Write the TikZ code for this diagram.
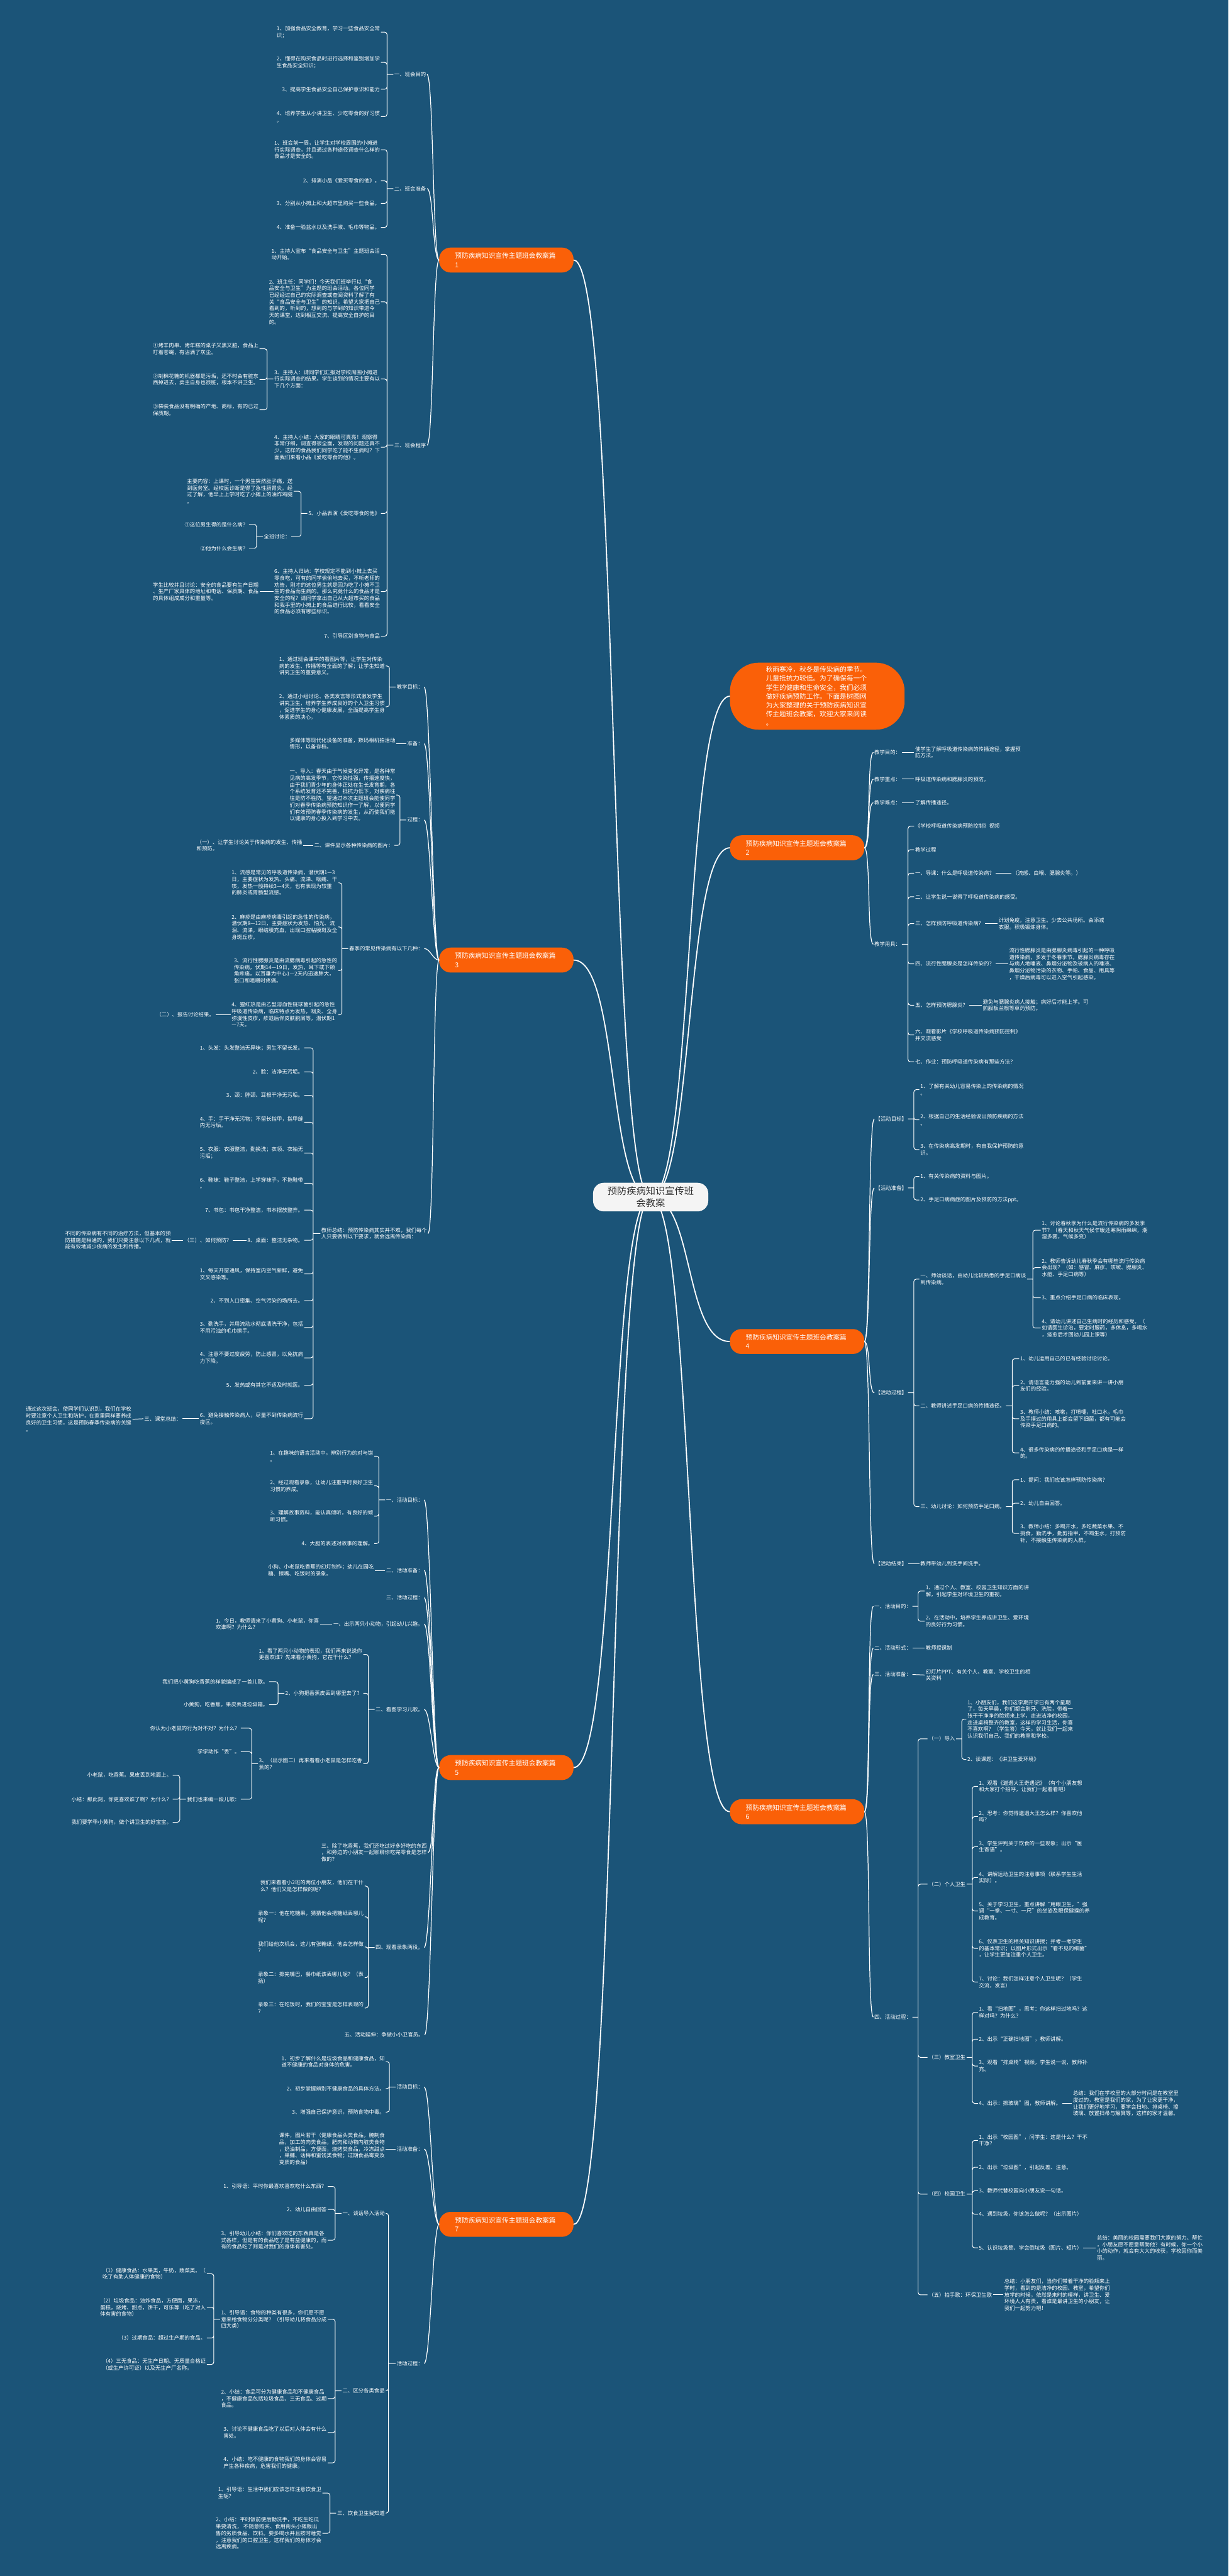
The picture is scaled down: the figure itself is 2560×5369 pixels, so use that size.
\documentclass[tikz,border=0pt]{standalone}
\usepackage{fontspec}
\setmainfont{Noto Sans CJK SC}
\definecolor{mmbg}{RGB}{27,84,120}
\definecolor{mmorange}{RGB}{250,96,8}
\definecolor{mmroot}{RGB}{244,244,244}
\definecolor{mmink}{RGB}{48,48,48}
\tikzset{
  root/.style={fill=mmroot, text=mmink, rounded corners=22pt, align=center,
               inner xsep=30pt, inner ysep=8pt, font=\fontsize{20}{25}\selectfont},
  topic/.style={fill=mmorange, text=white, rounded corners=24pt, anchor=west,
                text width=214pt, align=left, inner xsep=33pt, minimum height=52pt,
                font=\fontsize{14}{18.5}\selectfont},
  intro/.style={topic, inner xsep=75pt, inner ysep=8pt, rounded corners=60pt},
  leaf/.style={text=white, align=left, inner sep=2pt, font=\fontsize{11}{14}\selectfont},
  lf/.style={leaf, anchor=east},
  rt/.style={leaf, anchor=west},
  trunk/.style={draw=white, line width=2.4pt},
  branch/.style={draw=white, line width=1.6pt},
  twig/.style={draw=white, line width=1.3pt, rounded corners=5pt},
}
\begin{document}
\begin{tikzpicture}[x=1pt, y=-1pt]
\fill[mmbg] (0,0) rectangle (2560,5369);

% main topics
\node[intro] (s0) at (1521,1451) {秋雨寒冷，秋冬是传染病的季节。\\儿童抵抗力较低。为了确保每一个\\学生的健康和生命安全，我们必须\\做好疾病预防工作。下面是树图网\\为大家整理的关于预防疾病知识宣\\传主题班会教案，欢迎大家来阅读\\。};
\node[topic] (s1) at (915,542) {预防疾病知识宣传主题班会教案篇\\1};
\node[topic] (s2) at (1521,1767) {预防疾病知识宣传主题班会教案篇\\2};
\node[topic] (s3) at (915,2001) {预防疾病知识宣传主题班会教案篇\\3};
\node[topic] (s4) at (1521,2796) {预防疾病知识宣传主题班会教案篇\\4};
\node[topic] (s5) at (915,3684) {预防疾病知识宣传主题班会教案篇\\5};
\node[topic] (s6) at (1521,3776) {预防疾病知识宣传主题班会教案篇\\6};
\node[topic] (s7) at (915,4636) {预防疾病知识宣传主题班会教案篇\\7};

\coordinate (hub) at (1356,2495);
\draw[trunk] (hub) .. controls +(-90,0) and +(95,0) .. (s1.east);
\draw[trunk] (hub) .. controls +(-90,0) and +(95,0) .. (s3.east);
\draw[trunk] (hub) .. controls +(-90,0) and +(95,0) .. (s5.east);
\draw[trunk] (hub) .. controls +(-90,0) and +(95,0) .. (s7.east);
\draw[trunk] (hub) .. controls +(90,0) and +(-95,0) .. (s0.west);
\draw[trunk] (hub) .. controls +(90,0) and +(-95,0) .. (s2.west);
\draw[trunk] (hub) .. controls +(90,0) and +(-95,0) .. (s4.west);
\draw[trunk] (hub) .. controls +(90,0) and +(-95,0) .. (s6.west);
\node[root] (ctr) at (hub) {预防疾病知识宣传班\\会教案};

% ---- 1
\node[lf] (s1a) at (890,155) {一、班会目的};
\node[lf] (s1a1) at (794,67) {1、加强食品安全教育，学习一些食品安全常\\识；};
\node[lf] (s1a2) at (794,130) {2、懂得在购买食品时进行选择和鉴别增加学\\生食品安全知识；};
\node[lf] (s1a3) at (794,186) {3、提高学生食品安全自己保护意识和能力};
\node[lf] (s1a4) at (794,243) {4、培养学生从小讲卫生、少吃零食的好习惯\\。};
\node[lf] (s1b) at (890,393) {二、班会准备};
\node[lf] (s1b1) at (794,312) {1、班会前一周，让学生对学校周围的小摊进\\行实际调查，并且通过各种途径调查什么样的\\食品才是安全的。};
\node[lf] (s1b2) at (794,377) {2、排演小品《爱买零食的他》。};
\node[lf] (s1b3) at (794,424) {3、分别从小摊上和大超市里购买一些食品。};
\node[lf] (s1b4) at (794,474) {4、准备一脸盆水以及洗手液、毛巾等物品。};
\node[lf] (s1c) at (890,928) {三、班会程序};
\node[lf] (s1c1) at (794,530) {1、主持人宣布“食品安全与卫生”主题班会活\\动开始。};
\node[lf] (s1c2) at (794,629) {2、班主任：同学们！今天我们班举行以“食\\品安全与卫生”为主题的班会活动。各位同学\\已经经过自己的实际调查或查阅资料了解了有\\关“食品安全与卫生”的知识，希望大家把自己\\看到的，听到的，想到的与学到的知识带进今\\天的课堂，达到相互交流、提高安全自护的目\\的。};
\node[lf] (s1c3) at (794,790) {3、主持人：请同学们汇报对学校周围小摊进\\行实际调查的结果。学生谈到的情况主要有以\\下几个方面：};
\node[lf] (s1c3a) at (541,727) {①烤羊肉串、烤年糕的桌子又黑又脏，食品上\\叮着苍蝇，有沾满了灰尘。};
\node[lf] (s1c3b) at (541,791) {②制棉花糖的机器都是污垢，还不时会有脏东\\西掉进去，卖主自身也很脏，根本不讲卫生。};
\node[lf] (s1c3c) at (541,854) {③袋装食品没有明确的产地、商标，有的已过\\保质期。};
\node[lf] (s1c4) at (794,932) {4、主持人小结：大家的眼睛可真亮！观察得\\非常仔细，调查得很全面，发现的问题还真不\\少。这样的食品我们同学吃了能不生病吗？下\\面我们来看小品《爱吃零食的他》。};
\node[lf] (s1c5) at (794,1070) {5、小品表演《爱吃零食的他》};
\node[lf] (s1c5a) at (612,1024) {主要内容：上课时，一个男生突然肚子痛，送\\到医务室。经校医诊断是得了急性肠胃炎。经\\过了解，他早上上学时吃了小摊上的油炸鸡腿\\。};
\node[lf] (s1c5b) at (607,1118) {全班讨论：};
\node[lf] (s1c5b1) at (519,1093) {①这位男生得的是什么病？};
\node[lf] (s1c5b2) at (519,1143) {②他为什么会生病？};
\node[lf] (s1c6) at (794,1233) {6、主持人归纳：学校规定不能到小摊上去买\\零食吃，可有的同学偷偷地去买，不听老师的\\劝告，刚才的这位男生就是因为吃了小摊不卫\\生的食品而生病的。那么究竟什么的食品才是\\安全的呢？请同学拿出自己从大超市买的食品\\和我手里的小摊上的食品进行比较，看看安全\\的食品必须有哪些标识。};
\node[lf] (s1c6a) at (541,1233) {学生比较并且讨论：安全的食品要有生产日期\\、生产厂家具体的地址和电话、保质期、食品\\的具体组成成分和重量等。};
\node[lf] (s1c7) at (794,1326) {7、引导区别食物与食品};

\draw[branch] (s1.west) .. controls +(-13,0) and +(13,0) .. (s1a.east);
\draw[branch] (s1.west) .. controls +(-13,0) and +(13,0) .. (s1b.east);
\draw[branch] (s1.west) .. controls +(-13,0) and +(13,0) .. (s1c.east);
\draw[twig] (s1a.west) -- ++(-13,0) coordinate (k) (k) |- (s1a1.east) (k) |- (s1a2.east) (k) |- (s1a3.east) (k) |- (s1a4.east);
\draw[twig] (s1b.west) -- ++(-13,0) coordinate (k) (k) |- (s1b1.east) (k) |- (s1b2.east) (k) |- (s1b3.east) (k) |- (s1b4.east);
\draw[twig] (s1c.west) -- ++(-13,0) coordinate (k) (k) |- (s1c1.east) (k) |- (s1c2.east) (k) |- (s1c3.east) (k) |- (s1c4.east) (k) |- (s1c5.east) (k) |- (s1c6.east) (k) |- (s1c7.east);
\draw[twig] (s1c3.west) -- ++(-13,0) coordinate (k) (k) |- (s1c3a.east) (k) |- (s1c3b.east) (k) |- (s1c3c.east);
\draw[twig] (s1c5.west) -- ++(-13,0) coordinate (k) (k) |- (s1c5a.east) (k) |- (s1c5b.east);
\draw[twig] (s1c5b.west) -- ++(-13,0) coordinate (k) (k) |- (s1c5b1.east) (k) |- (s1c5b2.east);
\draw[twig] (s1c6.west) -- (s1c6a.east);

% ---- 3
\node[lf] (s3a) at (884,1432) {教学目标：};
\node[lf] (s3a1) at (804,1388) {1、通过班会课中的看图片等，让学生对传染\\病的发生、传播等有全面的了解；让学生知道\\讲究卫生的重要意义。};
\node[lf] (s3a2) at (804,1473) {2、通过小组讨论、各类发言等形式激发学生\\讲究卫生，培养学生养成良好的个人卫生习惯\\，促进学生的身心健康发展，全面提高学生身\\体素质的决心。};
\node[lf] (s3b) at (884,1550) {准备：};
\node[lf] (s3b1) at (826,1550) {多媒体等现代化设备的准备，数码相机拍活动\\情形，以备存档。};
\node[lf] (s3c) at (884,1709) {过程：};
\node[lf] (s3c1) at (826,1657) {一、导入：春天由于气候变化异常，是各种常\\见病的高发季节，它传染性强，传播速度快，\\由于我们青少年的身体正处在生长发育期，各\\个系统发育还不完善，抵抗力低下，对疾病往\\往是防不胜防。望通过本次主题班会能使同学\\们对春季传染病预防知识作一了解，以便同学\\们有效预防春季传染病的发生，从而使我们能\\以健康的身心投入到学习中去。};
\node[lf] (s3c2) at (822,1762) {二、课件显示各种传染病的图片：};
\node[lf] (s3c2a) at (632,1762) {（一）、让学生讨论关于传染病的发生、传播\\和预防。};
\node[lf] (s3d) at (884,1977) {春季的常见传染病有以下几种：};
\node[lf] (s3d1) at (705,1840) {1、流感是常见的呼吸道传染病，潜伏期1—3\\日，主要症状为发热、头痛、流涕、咽痛、干\\咳，发热一般持续3—4天，也有表现为较重\\的肺炎或胃肠型流感。};
\node[lf] (s3d2) at (705,1932) {2、麻疹是由麻疹病毒引起的急性的传染病，\\潜伏期8—12日，主要症状为发热、怕光、流\\泪、流涕，眼结膜充血，出现口腔粘膜斑及全\\身斑丘疹。};
\node[lf] (s3d3) at (705,2023) {3、流行性腮腺炎是由流腮病毒引起的急性的\\传染病，伏期14—19日，发热，耳下或下颌\\角疼痛，以耳垂为中心1—2天内迅速肿大，\\张口和咀嚼时疼痛。};
\node[lf] (s3d4) at (705,2115) {4、猩红热是由乙型溶血性链球菌引起的急性\\呼吸道传染病，临床特点为发热，咽炎、全身\\弥漫性皮疹，疹退后伴皮肤脱屑等，潜伏期1\\—7天。};
\node[lf] (s3d4a) at (449,2115) {（二）、报告讨论结果。};
\node[lf] (s3e) at (892,2571) {教师总结：预防传染病其实并不难，我们每个\\人只要做到以下要求，就会远离传染病：};
\node[lf] (s3e1) at (634,2184) {1、头发：头发整洁无异味；男生不留长发。};
\node[lf] (s3e2) at (634,2234) {2、脸：洁净无污垢。};
\node[lf] (s3e3) at (634,2283) {3、颈：脖颈、耳根干净无污垢。};
\node[lf] (s3e4) at (634,2339) {4、手：手干净无污物；不留长指甲，指甲缝\\内无污垢。};
\node[lf] (s3e5) at (634,2403) {5、衣服：衣服整洁，勤换洗；衣领、衣袖无\\污垢；};
\node[lf] (s3e6) at (634,2466) {6、鞋袜：鞋子整洁，上学穿袜子，不拖鞋带\\。};
\node[lf] (s3e7) at (634,2522) {7、书包：书包干净整洁，书本摆放整齐。};
\node[lf] (s3e8) at (634,2585) {8、桌面：整洁无杂物。};
\node[lf] (s3e8a) at (485,2585) {（三）、如何预防？};
\node[lf] (s3e8b) at (358,2585) {不同的传染病有不同的治疗方法，但基本的预\\防措施是相通的，我们只要注意以下几点，就\\能有效地减少疾病的发生和传播。};
\node[lf] (s3e9) at (634,2655) {1、每天开窗通风，保持室内空气新鲜，避免\\交叉感染等。};
\node[lf] (s3e10) at (634,2711) {2、不到人口密集、空气污染的场所去。};
\node[lf] (s3e11) at (634,2767) {3、勤洗手，并用流动水彻底清洗干净，包括\\不用污浊的毛巾擦手。};
\node[lf] (s3e12) at (634,2830) {4、注意不要过度疲劳，防止感冒，以免抗病\\力下降。};
\node[lf] (s3e13) at (634,2887) {5、发热或有其它不适及时就医。};
\node[lf] (s3e14) at (634,2957) {6、避免接触传染病人，尽量不到传染病流行\\疫区。};
\node[lf] (s3e14a) at (380,2957) {三、课堂总结：};
\node[lf] (s3e14b) at (276,2958) {通过这次班会，使同学们认识到，我们在学校\\时要注意个人卫生和防护，在家里同样要养成\\良好的卫生习惯，这是预防春季传染病的关键\\。};

\draw[branch] (s3.west) .. controls +(-13,0) and +(13,0) .. (s3a.east);
\draw[branch] (s3.west) .. controls +(-13,0) and +(13,0) .. (s3b.east);
\draw[branch] (s3.west) .. controls +(-13,0) and +(13,0) .. (s3c.east);
\draw[branch] (s3.west) .. controls +(-13,0) and +(13,0) .. (s3d.east);
\draw[branch] (s3.west) .. controls +(-13,0) and +(13,0) .. (s3e.east);
\draw[twig] (s3a.west) -- ++(-13,0) coordinate (k) (k) |- (s3a1.east) (k) |- (s3a2.east);
\draw[twig] (s3b.west) -- (s3b1.east);
\draw[twig] (s3c.west) -- ++(-13,0) coordinate (k) (k) |- (s3c1.east) (k) |- (s3c2.east);
\draw[twig] (s3c2.west) -- (s3c2a.east);
\draw[twig] (s3d.west) -- ++(-13,0) coordinate (k) (k) |- (s3d1.east) (k) |- (s3d2.east) (k) |- (s3d3.east) (k) |- (s3d4.east);
\draw[twig] (s3d4.west) -- (s3d4a.east);
\draw[twig] (s3e.west) -- ++(-15,0) coordinate (k) (k) |- (s3e1.east) (k) |- (s3e2.east) (k) |- (s3e3.east) (k) |- (s3e4.east) (k) |- (s3e5.east) (k) |- (s3e6.east) (k) |- (s3e7.east) (k) |- (s3e8.east) (k) |- (s3e9.east) (k) |- (s3e10.east) (k) |- (s3e11.east) (k) |- (s3e12.east) (k) |- (s3e13.east) (k) |- (s3e14.east);
\draw[twig] (s3e8.west) -- (s3e8a.east);
\draw[twig] (s3e8a.west) -- (s3e8b.east);
\draw[twig] (s3e14.west) -- (s3e14a.east);
\draw[twig] (s3e14a.west) -- (s3e14b.east);

% ---- 5
\node[lf] (s5a) at (884,3126) {一、活动目标：};
\node[lf] (s5a1) at (780,3035) {1、在趣味的语言活动中，辨别行为的对与错\\。};
\node[lf] (s5a2) at (780,3097) {2、经过观看录象，让幼儿注重平时良好卫生\\习惯的养成。};
\node[lf] (s5a3) at (780,3160) {3、理解故事资料，能认真倾听，有良好的倾\\听习惯。};
\node[lf] (s5a4) at (780,3217) {4、大胆的表述对故事的理解。};
\node[lf] (s5b) at (884,3273) {二、活动准备：};
\node[lf] (s5b1) at (781,3273) {小狗、小老鼠吃香蕉的幻灯制作；幼儿在园吃\\糖、擦嘴、吃饭时的录象。};
\node[lf] (s5c) at (884,3330) {三、活动过程：};
\node[lf] (s5d) at (884,3385) {一、出示两只小动物，引起幼儿兴趣。};
\node[lf] (s5d1) at (667,3385) {1、今日，教师请来了小黄狗、小老鼠，你喜\\欢谁啊？为什么？};
\node[lf] (s5e) at (884,3563) {二、看图学习儿歌。};
\node[lf] (s5e1) at (757,3448) {1、看了两只小动物的表现，我们再来说说你\\更喜欢谁？先来看小黄狗，它在干什么？};
\node[lf] (s5e2) at (757,3529) {2、小狗把香蕉皮丢到哪里去了？};
\node[lf] (s5e2a) at (561,3505) {我们把小黄狗吃香蕉的样貌编成了一首儿歌。};
\node[lf] (s5e2b) at (561,3553) {小黄狗，吃香蕉。果皮丢进垃圾箱。};
\node[lf] (s5e3) at (757,3676) {3、（出示图二）再来看看小老鼠是怎样吃香\\蕉的？};
\node[lf] (s5e3a) at (502,3602) {你认为小老鼠的行为对不对？为什么？};
\node[lf] (s5e3b) at (502,3651) {学学动作“丢”。};
\node[lf] (s5e3c) at (502,3750) {我们也来编一段儿歌：};
\node[lf] (s5e3c1) at (360,3700) {小老鼠，吃香蕉。果皮丢到地面上。};
\node[lf] (s5e3c2) at (360,3750) {小结：那此刻，你更喜欢谁了啊？为什么？};
\node[lf] (s5e3c3) at (360,3798) {我们要学乖小黄狗，做个讲卫生的好宝宝。};
\node[lf] (s5f) at (892,3861) {三、除了吃香蕉，我们还吃过好多好吃的东西\\，和旁边的小朋友一起聊聊你吃完零食是怎样\\做的？};
\node[lf] (s5g) at (884,4059) {四、观看录象两段。};
\node[lf] (s5g1) at (760,3931) {我们来看看小2班的两位小朋友，他们在干什\\么？他们又是怎样做的呢？};
\node[lf] (s5g2) at (760,3995) {录象一：他在吃糖果，猜猜他会把糖纸丢哪儿\\呢？};
\node[lf] (s5g3) at (760,4058) {我们给他次机会，这儿有张糖纸，他会怎样做\\？};
\node[lf] (s5g4) at (760,4122) {录象二：擦完嘴巴，餐巾纸该丢哪儿呢？（表\\扬）};
\node[lf] (s5g5) at (760,4185) {录象三：在吃饭时，我们的宝宝是怎样表现的\\？};
\node[lf] (s5h) at (885,4241) {五、活动延伸：争做小小卫官员。};

\draw[branch] (s5.west) .. controls +(-13,0) and +(13,0) .. (s5a.east);
\draw[branch] (s5.west) .. controls +(-13,0) and +(13,0) .. (s5b.east);
\draw[branch] (s5.west) .. controls +(-13,0) and +(13,0) .. (s5c.east);
\draw[branch] (s5.west) .. controls +(-13,0) and +(13,0) .. (s5d.east);
\draw[branch] (s5.west) .. controls +(-13,0) and +(13,0) .. (s5e.east);
\draw[branch] (s5.west) .. controls +(-13,0) and +(13,0) .. (s5f.east);
\draw[branch] (s5.west) .. controls +(-13,0) and +(13,0) .. (s5g.east);
\draw[branch] (s5.west) .. controls +(-13,0) and +(13,0) .. (s5h.east);
\draw[twig] (s5a.west) -- ++(-13,0) coordinate (k) (k) |- (s5a1.east) (k) |- (s5a2.east) (k) |- (s5a3.east) (k) |- (s5a4.east);
\draw[twig] (s5b.west) -- (s5b1.east);
\draw[twig] (s5d.west) -- (s5d1.east);
\draw[twig] (s5e.west) -- ++(-13,0) coordinate (k) (k) |- (s5e1.east) (k) |- (s5e2.east) (k) |- (s5e3.east);
\draw[twig] (s5e2.west) -- ++(-13,0) coordinate (k) (k) |- (s5e2a.east) (k) |- (s5e2b.east);
\draw[twig] (s5e3.west) -- ++(-13,0) coordinate (k) (k) |- (s5e3a.east) (k) |- (s5e3b.east) (k) |- (s5e3c.east);
\draw[twig] (s5e3c.west) -- ++(-13,0) coordinate (k) (k) |- (s5e3c1.east) (k) |- (s5e3c2.east) (k) |- (s5e3c3.east);
\draw[twig] (s5g.west) -- ++(-13,0) coordinate (k) (k) |- (s5g1.east) (k) |- (s5g2.east) (k) |- (s5g3.east) (k) |- (s5g4.east) (k) |- (s5g5.east);

% ---- 7
\node[lf] (s7a) at (884,4350) {活动目标：};
\node[lf] (s7a1) at (804,4297) {1、初步了解什么是垃圾食品和健康食品，知\\道不健康的食品对身体的危害。};
\node[lf] (s7a2) at (804,4353) {2、初步掌握辨别不健康食品的具体方法。};
\node[lf] (s7a3) at (804,4402) {3、增强自己保护意识，预防食物中毒。};
\node[lf] (s7b) at (884,4479) {活动准备：};
\node[lf] (s7b1) at (804,4479) {课件，图片若干（健康食品头类食品，腌制食\\品，加工的肉类食品，肥肉和动物内脏类食物\\，奶油制品，方便面，烧烤类食品，冷冻甜点\\，果脯、话梅和蜜饯类食物；过期食品霉变及\\变质的食品）};
\node[lf] (s7c) at (884,4926) {活动过程：};
\node[lf] (s7c1) at (804,4613) {一、谈话导入活动};
\node[lf] (s7c1a) at (683,4557) {1、引导语：平时你最喜欢喜欢吃什么东西？};
\node[lf] (s7c1b) at (683,4605) {2、幼儿自由回答};
\node[lf] (s7c1c) at (683,4669) {3、引导幼儿小结：你们喜欢吃的东西真是各\\式各样，但是有的食品吃了是有益健康的，而\\有的食品吃了则是对我们的身体有害处。};
\node[lf] (s7c2) at (804,4983) {二、区分各类食品};
\node[lf] (s7c2a) at (683,4834) {1、引导语：食物的种类有很多，你们愿不愿\\意来给食物分分类呢？（引导幼儿将食品分成\\四大类）};
\node[lf] (s7c2a1) at (431,4739) {（1）健康食品：水果类，牛奶，蔬菜类。（\\吃了有助人体健康的食物）};
\node[lf] (s7c2a2) at (431,4809) {（2）垃圾食品：油炸食品，方便面，果冻，\\蛋糕，烧烤、甜点，饼干，可乐等（吃了对人\\体有害的食物）};
\node[lf] (s7c2a3) at (431,4873) {（3）过期食品：超过生产期的食品。};
\node[lf] (s7c2a4) at (431,4928) {（4）三无食品：无生产日期、无质量合格证\\（或生产许可证）以及无生产厂名称。};
\node[lf] (s7c2b) at (683,4999) {2、小结：食品可分为健康食品和不健康食品\\，不健康食品包括垃圾食品、三无食品、过期\\食品。};
\node[lf] (s7c2c) at (683,5070) {3、讨论不健康食品吃了以后对人体会有什么\\害处。};
\node[lf] (s7c2d) at (683,5133) {4、小结：吃不健康的食物我们的身体会容易\\产生各种疾病，危害我们的健康。};
\node[lf] (s7c3) at (804,5238) {三、饮食卫生我知道};
\node[lf] (s7c3a) at (672,5196) {1、引导语：生活中我们应该怎样注意饮食卫\\生呢？};
\node[lf] (s7c3b) at (672,5280) {2、小结：平时饭前便后勤洗手，不吃生吃瓜\\果要清洗， 不随意购买、食用街头小摊贩出\\售的劣质食品、饮料。要多喝水并且按时睡觉\\，注意我们的口腔卫生，这样我们的身体才会\\远离疾病。};

\draw[branch] (s7.west) .. controls +(-13,0) and +(13,0) .. (s7a.east);
\draw[branch] (s7.west) .. controls +(-13,0) and +(13,0) .. (s7b.east);
\draw[branch] (s7.west) .. controls +(-13,0) and +(13,0) .. (s7c.east);
\draw[twig] (s7a.west) -- ++(-13,0) coordinate (k) (k) |- (s7a1.east) (k) |- (s7a2.east) (k) |- (s7a3.east);
\draw[twig] (s7b.west) -- (s7b1.east);
\draw[twig] (s7c.west) -- ++(-15,0) coordinate (k) (k) |- (s7c1.east) (k) |- (s7c2.east) (k) |- (s7c3.east);
\draw[twig] (s7c1.west) -- ++(-13,0) coordinate (k) (k) |- (s7c1a.east) (k) |- (s7c1b.east) (k) |- (s7c1c.east);
\draw[twig] (s7c2.west) -- ++(-13,0) coordinate (k) (k) |- (s7c2a.east) (k) |- (s7c2b.east) (k) |- (s7c2c.east) (k) |- (s7c2d.east);
\draw[twig] (s7c2a.west) -- ++(-13,0) coordinate (k) (k) |- (s7c2a1.east) (k) |- (s7c2a2.east) (k) |- (s7c2a3.east) (k) |- (s7c2a4.east);
\draw[twig] (s7c3.west) -- ++(-13,0) coordinate (k) (k) |- (s7c3a.east) (k) |- (s7c3b.east);

% ---- 2
\node[rt] (s2a) at (1820,1568) {教学目的：};
\node[rt] (s2a1) at (1905,1568) {使学生了解呼吸道传染病的传播途径，掌握预\\防方法。};
\node[rt] (s2b) at (1820,1624) {教学重点：};
\node[rt] (s2b1) at (1905,1624) {呼吸道传染病和腮腺炎的预防。};
\node[rt] (s2c) at (1820,1673) {教学难点：};
\node[rt] (s2c1) at (1905,1673) {了解传播途径。};
\node[rt] (s2d) at (1820,1968) {教学用具：};
\node[rt] (s2d1) at (1905,1722) {《学校呼吸道传染病预防控制》视频};
\node[rt] (s2d2) at (1905,1771) {教学过程};
\node[rt] (s2d3) at (1905,1820) {一、导课：什么是呼吸道传染病？};
\node[rt] (s2d3a) at (2108,1820) {（流感、白喉、腮腺炎等。）};
\node[rt] (s2d4) at (1905,1869) {二、让学生说一说得了呼吸道传染病的感受。};
\node[rt] (s2d5) at (1905,1925) {三、怎样预防呼吸道传染病？};
\node[rt] (s2d5a) at (2079,1925) {计划免疫。注意卫生。少去公共场所。会添减\\衣服。积极锻炼身体。};
\node[rt] (s2d6) at (1905,2009) {四、流行性腮腺炎是怎样传染的？};
\node[rt] (s2d6a) at (2101,2009) {流行性腮腺炎是由腮腺炎病毒引起的一种呼吸\\道传染病，多发于冬春季节。腮腺炎病毒存在\\与病人地唾液、鼻烟分泌物及被病人的唾液、\\鼻烟分泌物污染的衣物、手帕、食品、用具等\\，干燥后病毒可以进入空气引起感染。};
\node[rt] (s2d7) at (1905,2095) {五、怎样预防腮腺炎？};
\node[rt] (s2d7a) at (2046,2095) {避免与腮腺炎病人接触；病好后才能上学。可\\煎服板兰根等草药预防。};
\node[rt] (s2d8) at (1905,2157) {六、观看影片《学校呼吸道传染病预防控制》\\并交流感受};
\node[rt] (s2d9) at (1905,2213) {七、作业：预防呼吸道传染病有那些方法？};

\draw[branch] (s2.east) .. controls +(13,0) and +(-13,0) .. (s2a.west);
\draw[branch] (s2.east) .. controls +(13,0) and +(-13,0) .. (s2b.west);
\draw[branch] (s2.east) .. controls +(13,0) and +(-13,0) .. (s2c.west);
\draw[branch] (s2.east) .. controls +(13,0) and +(-13,0) .. (s2d.west);
\draw[twig] (s2a.east) -- (s2a1.west);
\draw[twig] (s2b.east) -- (s2b1.west);
\draw[twig] (s2c.east) -- (s2c1.west);
\draw[twig] (s2d.east) -- ++(13,0) coordinate (k) (k) |- (s2d1.west) (k) |- (s2d2.west) (k) |- (s2d3.west) (k) |- (s2d4.west) (k) |- (s2d5.west) (k) |- (s2d6.west) (k) |- (s2d7.west) (k) |- (s2d8.west) (k) |- (s2d9.west);
\draw[twig] (s2d3.east) -- (s2d3a.west);
\draw[twig] (s2d5.east) -- (s2d5a.west);
\draw[twig] (s2d6.east) -- (s2d6a.west);
\draw[twig] (s2d7.east) -- (s2d7a.west);

% ---- 4
\node[rt] (s4a) at (1822,2332) {【活动目标】};
\node[rt] (s4a1) at (1916,2271) {1、了解有关幼儿容易传染上的传染病的情况\\。};
\node[rt] (s4a2) at (1916,2334) {2、根据自己的生活经验说出预防疾病的方法\\。};
\node[rt] (s4a3) at (1916,2396) {3、在传染病高发期时，有自我保护预防的意\\识。};
\node[rt] (s4b) at (1822,2476) {【活动准备】};
\node[rt] (s4b1) at (1916,2452) {1、有关传染病的资料与图片。};
\node[rt] (s4b2) at (1916,2501) {2、手足口病病症的图片及预防的方法ppt。};
\node[rt] (s4c) at (1822,2903) {【活动过程】};
\node[rt] (s4c1) at (1916,2666) {一、师幼谈话，由幼儿比较熟悉的手足口病谈\\到传染病。};
\node[rt] (s4c1a) at (2169,2564) {1、讨论春秋季为什么是流行传染病的多发季\\节？（春天和秋天气候乍暖还寒阴雨绵绵，潮\\湿多雾，气候多变）};
\node[rt] (s4c1b) at (2169,2642) {2、教师告诉幼儿春秋季会有哪些流行传染病\\会出现？（如：感冒、麻疹、咳嗽、腮腺炎、\\水痘、手足口病等）};
\node[rt] (s4c1c) at (2169,2705) {3、重点介绍手足口病的临床表现。};
\node[rt] (s4c1d) at (2169,2768) {4、请幼儿讲述自己生病时的经历和感受。（\\如请医生诊治，要定时服药，多休息，多喝水\\，痊愈后才回幼儿园上课等）};
\node[rt] (s4c2) at (1916,2930) {二、教师讲述手足口病的传播途径。};
\node[rt] (s4c2a) at (2124,2832) {1、幼儿运用自己的已有经验讨论讨论。};
\node[rt] (s4c2b) at (2124,2888) {2、请语言能力强的幼儿到前面来讲一讲小朋\\友们的经验。};
\node[rt] (s4c2c) at (2124,2957) {3、教师小结：咳嗽，打喷嚏，吐口水，毛巾\\及手摸过的用具上都会留下细菌，都有可能会\\传染手足口病的。};
\node[rt] (s4c2d) at (2124,3028) {4、很多传染病的传播途径和手足口病是一样\\的。};
\node[rt] (s4c3) at (1916,3140) {三、幼儿讨论：如何预防手足口病。};
\node[rt] (s4c3a) at (2124,3084) {1、提问：我们应该怎样预防传染病？};
\node[rt] (s4c3b) at (2124,3133) {2、幼儿自由回答。};
\node[rt] (s4c3c) at (2124,3196) {3、教师小结：多喝开水，多吃蔬菜水果、不\\挑食，勤洗手，勤剪指甲，不喝生水，打预防\\针，不接触生传染病的人群。};
\node[rt] (s4d) at (1822,3259) {【活动结束】};
\node[rt] (s4d1) at (1916,3259) {教师带幼儿到洗手间洗手。};

\draw[branch] (s4.east) .. controls +(13,0) and +(-13,0) .. (s4a.west);
\draw[branch] (s4.east) .. controls +(13,0) and +(-13,0) .. (s4b.west);
\draw[branch] (s4.east) .. controls +(13,0) and +(-13,0) .. (s4c.west);
\draw[branch] (s4.east) .. controls +(13,0) and +(-13,0) .. (s4d.west);
\draw[twig] (s4a.east) -- ++(12,0) coordinate (k) (k) |- (s4a1.west) (k) |- (s4a2.west) (k) |- (s4a3.west);
\draw[twig] (s4b.east) -- ++(12,0) coordinate (k) (k) |- (s4b1.west) (k) |- (s4b2.west);
\draw[twig] (s4c.east) -- ++(12,0) coordinate (k) (k) |- (s4c1.west) (k) |- (s4c2.west) (k) |- (s4c3.west);
\draw[twig] (s4c1.east) -- ++(12,0) coordinate (k) (k) |- (s4c1a.west) (k) |- (s4c1b.west) (k) |- (s4c1c.west) (k) |- (s4c1d.west);
\draw[twig] (s4c2.east) -- ++(13,0) coordinate (k) (k) |- (s4c2a.west) (k) |- (s4c2b.west) (k) |- (s4c2c.west) (k) |- (s4c2d.west);
\draw[twig] (s4c3.east) -- ++(13,0) coordinate (k) (k) |- (s4c3a.west) (k) |- (s4c3b.west) (k) |- (s4c3c.west);
\draw[twig] (s4d.east) -- (s4d1.west);

% ---- 6
\node[rt] (s6a) at (1820,3348) {一、活动目的：};
\node[rt] (s6a1) at (1927,3316) {1、通过个人、教室、校园卫生知识方面的讲\\解，引起学生对环境卫生的重视。};
\node[rt] (s6a2) at (1927,3379) {2、在活动中，培养学生养成讲卫生、爱环境\\的良好行为习惯。};
\node[rt] (s6b) at (1820,3435) {二、活动形式：};
\node[rt] (s6b1) at (1927,3435) {教师授课制};
\node[rt] (s6c) at (1820,3490) {三、活动准备：};
\node[rt] (s6c1) at (1927,3491) {幻灯片PPT、有关个人、教室、学校卫生的相\\关资料};
\node[rt] (s6d) at (1820,4204) {四、活动过程：};
\node[rt] (s6d1) at (1933,3624) {（一）导入};
\node[rt] (s6d1a) at (2014,3583) {1、小朋友们，我们这学期开学已有两个星期\\了，每天早晨，你们都会刷牙、洗脸，带着一\\张干干净净的脸颊来上学，走进洁净的校园，\\走进桌椅整齐的教室，这样的学习生活，你喜\\不喜欢啊？（学生答）今天，就让我们一起来\\认识我们自己、我们的教室和学校。};
\node[rt] (s6d1b) at (2014,3667) {2、读课题：《讲卫生爱环境》};
\node[rt] (s6d2) at (1933,3927) {（二）个人卫生};
\node[rt] (s6d2a) at (2038,3723) {1、观看《邋遢大王奇遇记》（有个小朋友想\\和大家打个招呼，让我们一起看看吧）};
\node[rt] (s6d2b) at (2038,3786) {2、思考：你觉得邋遢大王怎么样？你喜欢他\\吗？};
\node[rt] (s6d2c) at (2038,3849) {3、学生评判关于饮食的一些现象；出示“医\\生寄语”。};
\node[rt] (s6d2d) at (2038,3913) {4、讲解运动卫生的注意事项（联系学生生活\\实际）。};
\node[rt] (s6d2e) at (2038,3983) {5、关于学习卫生，重点讲解“用眼卫生，”强\\调“一拳、一寸、一尺”的坐姿及眼保健操的养\\成教育。};
\node[rt] (s6d2f) at (2038,4061) {6、仪表卫生的相关知识讲授；并考一考学生\\的基本常识；以图片形式出示“看不见的细菌”\\，让学生更加注重个人卫生。};
\node[rt] (s6d2g) at (2038,4131) {7、讨论：我们怎样注意个人卫生呢？（学生\\交流，发言）};
\node[rt] (s6d3) at (1933,4288) {（三）教室卫生};
\node[rt] (s6d3a) at (2038,4194) {1、看“扫地图”，思考：你这样扫过地吗？这\\样对吗？为什么？};
\node[rt] (s6d3b) at (2038,4250) {2、出示“正确扫地图”，教师讲解。};
\node[rt] (s6d3c) at (2038,4306) {3、观看“排桌椅”视频，学生说一说，教师补\\充。};
\node[rt] (s6d3d) at (2038,4384) {4、出示：擦玻璃”图，教师讲解。};
\node[rt] (s6d3d1) at (2234,4384) {总结：我们在学校里的大部分时间是在教室里\\度过的，教室是我们的家，为了让家更干净，\\让我们更好地学习，要学会扫地、排桌椅、擦\\玻璃、放置扫帚与簸箕等，这样的家才温馨。};
\node[rt] (s6d4) at (1933,4573) {（四）校园卫生};
\node[rt] (s6d4a) at (2038,4461) {1、出示“校园图”，问学生：这是什么？干不\\干净？};
\node[rt] (s6d4b) at (2038,4517) {2、出示“垃圾图”，引起反差、注意。};
\node[rt] (s6d4c) at (2038,4566) {3、教师代替校园向小朋友说一句话。};
\node[rt] (s6d4d) at (2038,4615) {4、遇到垃圾，你该怎么做呢？（出示图片）};
\node[rt] (s6d4e) at (2038,4685) {5、认识垃圾筒、学会倒垃圾（图片、短片）};
\node[rt] (s6d4e1) at (2284,4685) {总结：美丽的校园需要我们大家的努力、帮忙\\，小朋友愿不愿意帮助他？有时候，你一个小\\小的动作，就会有大大的收获，学校因你而美\\丽。};
\node[rt] (s6d5) at (1933,4783) {（五）拍手歌：环保卫生歌};
\node[rt] (s6d5a) at (2091,4783) {总结：小朋友们，当你们带着干净的脸颊来上\\学时，看到的是洁净的校园、教室，希望你们\\放学的时候，依然是来时的模样，讲卫生、爱\\环境人人有责，看谁是最讲卫生的小朋友，让\\我们一起努力吧！};

\draw[branch] (s6.east) .. controls +(13,0) and +(-13,0) .. (s6a.west);
\draw[branch] (s6.east) .. controls +(13,0) and +(-13,0) .. (s6b.west);
\draw[branch] (s6.east) .. controls +(13,0) and +(-13,0) .. (s6c.west);
\draw[branch] (s6.east) .. controls +(13,0) and +(-13,0) .. (s6d.west);
\draw[twig] (s6a.east) -- ++(12,0) coordinate (k) (k) |- (s6a1.west) (k) |- (s6a2.west);
\draw[twig] (s6b.east) -- (s6b1.west);
\draw[twig] (s6c.east) -- (s6c1.west);
\draw[twig] (s6d.east) -- ++(12,0) coordinate (k) (k) |- (s6d1.west) (k) |- (s6d2.west) (k) |- (s6d3.west) (k) |- (s6d4.west) (k) |- (s6d5.west);
\draw[twig] (s6d1.east) -- ++(12,0) coordinate (k) (k) |- (s6d1a.west) (k) |- (s6d1b.west);
\draw[twig] (s6d2.east) -- ++(12,0) coordinate (k) (k) |- (s6d2a.west) (k) |- (s6d2b.west) (k) |- (s6d2c.west) (k) |- (s6d2d.west) (k) |- (s6d2e.west) (k) |- (s6d2f.west) (k) |- (s6d2g.west);
\draw[twig] (s6d3.east) -- ++(12,0) coordinate (k) (k) |- (s6d3a.west) (k) |- (s6d3b.west) (k) |- (s6d3c.west) (k) |- (s6d3d.west);
\draw[twig] (s6d3d.east) -- (s6d3d1.west);
\draw[twig] (s6d4.east) -- ++(12,0) coordinate (k) (k) |- (s6d4a.west) (k) |- (s6d4b.west) (k) |- (s6d4c.west) (k) |- (s6d4d.west) (k) |- (s6d4e.west);
\draw[twig] (s6d4e.east) -- (s6d4e1.west);
\draw[twig] (s6d5.east) -- (s6d5a.west);
\end{tikzpicture}
\end{document}
